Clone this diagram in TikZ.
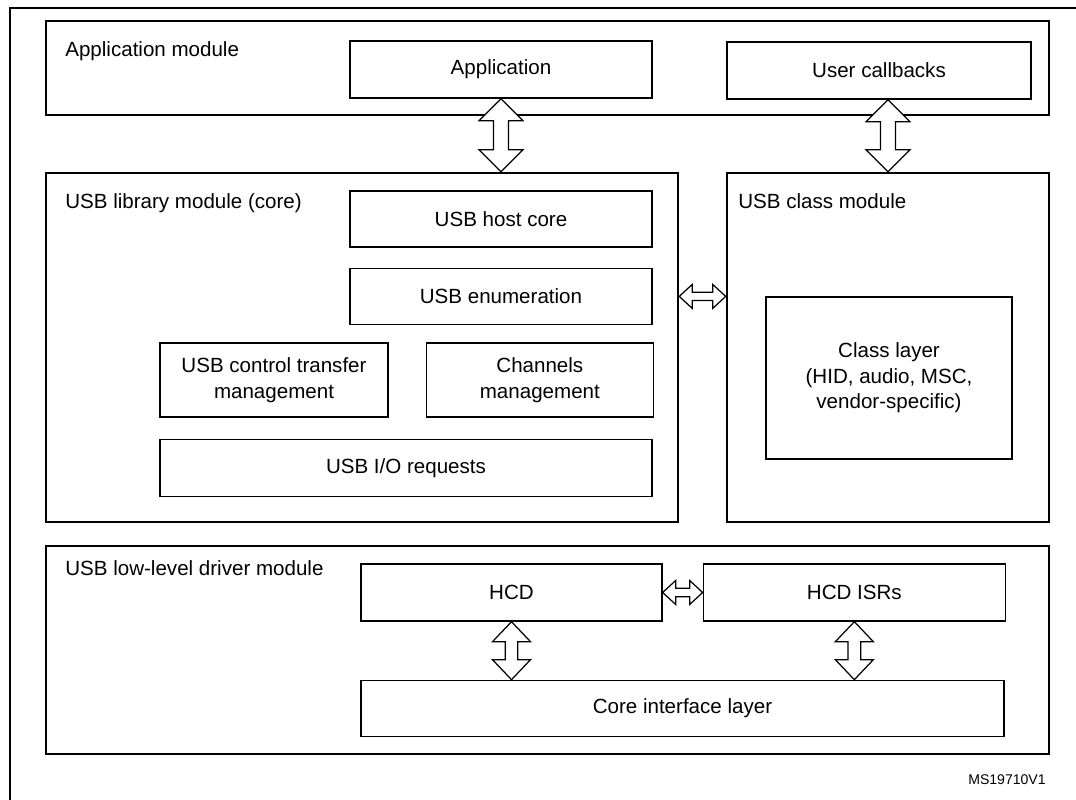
\documentclass[tikz,border=0pt]{standalone}
\usepackage{fontspec}
\setmainfont{Liberation Sans}
\usetikzlibrary{positioning,calc}

\tikzset{
  dblv/.style n args={3}{to path={(\tikztostart) -- ++(#1,#3) -- ++(#2-#1,0)
    -- ($(\tikztotarget)+(#2,-#3)$) -- ++(#1-#2,0) -- (\tikztotarget)
    -- ++(-#1,-#3) -- ++(#1-#2,0) -- ($(\tikztostart)+(-#2,#3)$)
    -- ++(#2-#1,0) -- cycle}},
  dblh/.style n args={3}{to path={(\tikztostart) -- ++(#3,-#1) -- ++(0,#1-#2)
    -- ($(\tikztotarget)+(-#3,-#2)$) -- ++(0,#2-#1) -- (\tikztotarget)
    -- ++(-#3,#1) -- ++(0,#2-#1) -- ($(\tikztostart)+(#3,#2)$)
    -- ++(0,#1-#2) -- cycle}}
}

\begin{document}
\begin{tikzpicture}[x=0.02cm, y=-0.02cm,
    every node/.style={font=\fontsize{11.7}{14.6}\selectfont}]
    % Estilos
    \tikzstyle{module} = [draw, line width=1.5pt, inner sep=0pt]
    \tikzstyle{block} = [draw, line width=0.8pt, align=center, inner sep=0pt, minimum height=1.14cm]
    \tikzstyle{title} = [anchor=base west, inner sep=0pt]
    \tikzstyle{arrowbox} = [draw, fill=white, line width=0.7pt]
    \tikzstyle{wideud} = [dblv={22}{7.5}{22}]
    \tikzstyle{lowud} = [dblv={19}{6.3}{20}]
    \tikzstyle{narrowlr} = [dblh={12}{4.2}{13}]

    \useasboundingbox (0,0) rectangle (1076,800);
    \draw[line width=1.1pt] (10,800) |- (1076,8);

    % Modulo de aplicacao
    \node[module, minimum width=20.06cm, minimum height=1.88cm] (appmod) at (547.5,68) {};
    \node[title] (appmodtxt) at (65,57) {Application module};
    \node[block, minimum width=6.04cm] (app) at (501,69.5) {Application};
    \node[block, minimum width=6.08cm] (cb) at (879,70.5) {User callbacks};

    % Biblioteca USB (core)
    \node[module, minimum width=12.64cm, minimum height=6.98cm] (libmod) at (362,347.5) {};
    \node[title] (libmodtxt) at (65,209) {USB library module (core)};
    \node[block, minimum width=6.04cm, minimum height=1.12cm] (hostcore) at (501,219) {USB host core};
    \node[block, minimum width=6.04cm, minimum height=1.12cm, below=0.4cm of hostcore] (enum) {USB enumeration};
    \node[block, minimum width=4.56cm, minimum height=1.48cm] (ctrl) at (274,380) {USB control transfer\\management};
    \node[block, minimum width=4.54cm, minimum height=1.48cm, right=0.74cm of ctrl] (chan) {Channels\\management};
    \node[block, minimum width=9.84cm, below=0.42cm of ctrl.south west, anchor=north west] (io) {USB I/O requests};

    % Modulo de classe
    \node[module, minimum width=6.44cm, minimum height=6.98cm] (classmod) at (888,347.5) {};
    \node[title] (classmodtxt) at (738,209) {USB class module};
    \node[block, minimum width=4.92cm, minimum height=3.24cm] (classlayer) at (889,378) {Class layer\\(HID, audio, MSC,\\vendor-specific)};

    % Driver de baixo nivel
    \node[module, minimum width=20.06cm, minimum height=4.16cm] (llmod) at (547.5,650) {};
    \node[title] (llmodtxt) at (65,576) {USB low-level driver module};
    \node[block, minimum width=6.02cm] (hcd) at (511.5,592.5) {HCD};
    \node[block, minimum width=6.04cm, right=0.8cm of hcd] (isr) {HCD ISRs};
    \node[block, minimum width=12.86cm, minimum height=1.12cm, below=1.16cm of hcd.south west, anchor=north west] (cif) {Core interface layer};

    \node[anchor=east, inner sep=0pt, font=\fontsize{8}{9.5}\selectfont] (msid) at (1046,780) {MS19710V1};

    % Setas
    \draw[arrowbox] (app.south) to[wideud] (app.south |- libmod.north);
    \draw[arrowbox] (cb.south -| classmod.north) to[wideud] (classmod.north);
    \draw[arrowbox] (libmod.east |- enum) to[narrowlr] (classmod.west |- enum);
    \draw[arrowbox] (hcd.east) to[narrowlr] (isr.west);
    \draw[arrowbox] (hcd.south) to[lowud] (hcd.south |- cif.north);
    \draw[arrowbox] (isr.south) to[lowud] (isr.south |- cif.north);
\end{tikzpicture}
\end{document}
